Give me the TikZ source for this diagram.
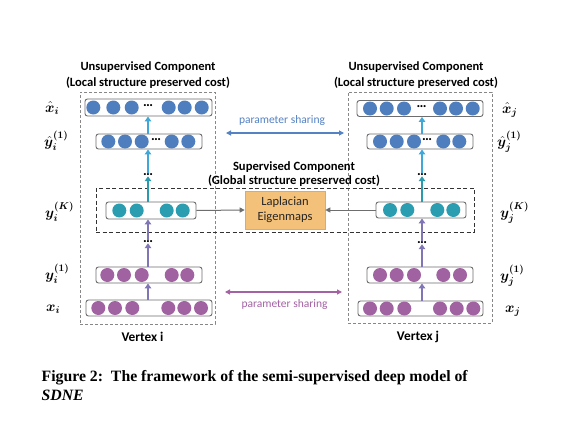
\documentclass[tikz,border=0pt]{standalone}
\usepackage{amsmath}
\usepackage{bm}
\usepackage{fontspec}
\setmainfont{Carlito}
\setsansfont{Carlito}
\newfontfamily\capfont{Liberation Serif}
\usetikzlibrary{arrows.meta}
\definecolor{bluedot}{RGB}{79,126,191}
\definecolor{tealdot}{RGB}{43,157,176}
\definecolor{purpledot}{RGB}{160,98,160}
\definecolor{arrblue}{RGB}{64,168,216}
\definecolor{arrteal}{RGB}{42,155,175}
\definecolor{arrpurple}{RGB}{128,118,182}
\definecolor{psblue}{RGB}{84,130,196}
\definecolor{pspurple}{RGB}{164,98,164}
\definecolor{boxgray}{RGB}{110,110,110}
\definecolor{dashgray}{RGB}{135,135,135}
\definecolor{lapfill}{RGB}{243,193,122}
\definecolor{lapdraw}{RGB}{232,168,90}
\definecolor{arrgray}{RGB}{110,110,110}
\newlength\fitlen
\newcommand\calcsize[4]{\settowidth\fitlen{#2\fontsize{10}{12}\selectfont #3}\pgfmathsetmacro\tmpsz{10*#4/\fitlen}\global\let#1\tmpsz}
\begin{document}
\calcsize{\szUa}{\bfseries}{Unsupervised Component}{135}%
\calcsize{\szUb}{\bfseries}{(Local structure preserved cost)}{164}%
\calcsize{\szSa}{\bfseries}{Supervised Component}{122}%
\calcsize{\szSb}{\bfseries}{(Global structure preserved cost)}{172}%
\calcsize{\szPS}{}{parameter sharing}{86}%
\calcsize{\szLap}{}{Eigenmaps}{55}%
\calcsize{\szV}{\bfseries}{Vertex i}{42}%
\calcsize{\szCap}{\capfont\bfseries}{Figure 2:\ \ The framework of the semi-supervised deep model of}{426}%
\begin{tikzpicture}[x=1pt,y=-1pt,
  layerbox/.style={draw=boxgray, rounded corners=2.5pt, line width=0.9pt, inner sep=0pt},
  dotc/.style={circle, inner sep=0pt, minimum size=14pt},
  bdot/.style={dotc, fill=bluedot},
  tdot/.style={dotc, fill=tealdot},
  pdot/.style={dotc, fill=purpledot},
  ell/.style={inner sep=0.5pt, font=\fontsize{14}{14}\selectfont\bfseries},
  lbl/.style={anchor=west, inner sep=0pt, font=\fontsize{14}{15}\selectfont},
  uparr/.style={line width=2pt, -{Triangle[length=5pt,width=6.5pt]}},
  psarr/.style={line width=1.1pt, {Triangle[length=5pt,width=5pt]}-{Triangle[length=5pt,width=5pt]}},
  gray arrow/.style={draw=arrgray, line width=1pt, -{Triangle[length=5pt,width=5pt]}},
  outerbox/.style={draw=dashgray, line width=0.8pt, dash pattern=on 3pt off 2pt},
  supbox/.style={draw=black!80, line width=0.8pt, dash pattern=on 4pt off 2.5pt}
]
\useasboundingbox[fill=white] (0,0) rectangle (570,431);

% outer dashed boxes
\node[outerbox, minimum width=135pt, minimum height=232pt, inner sep=0pt] (outi) at (147.5,208) {};
\node[outerbox, minimum width=144pt, minimum height=231pt, inner sep=0pt] (outj) at (420,207.5) {};
% supervised box
\node[supbox, minimum width=378pt, minimum height=44pt, inner sep=0pt] (sup) at (285,210) {};

% titles
\node[align=center, inner sep=0pt, font=\fontsize{12}{16}\selectfont\bfseries] (ti) at (148,75)
  {{\fontsize{\szUa}{16}\selectfont Unsupervised Component}\\{\fontsize{\szUb}{16}\selectfont (Local structure preserved cost)}};
\node[align=center, inner sep=0pt, font=\fontsize{12}{16}\selectfont\bfseries] (tj) at (416,75)
  {{\fontsize{\szUa}{16}\selectfont Unsupervised Component}\\{\fontsize{\szUb}{16}\selectfont (Local structure preserved cost)}};
\node[align=center, inner sep=0pt, font=\fontsize{12}{14.5}\selectfont\bfseries] (ts) at (294,174)
  {{\fontsize{\szSa}{14.5}\selectfont Supervised Component}\\{\fontsize{\szSb}{14.5}\selectfont (Global structure preserved cost)}};

% ---------------- left column
\node[layerbox, minimum width=127pt, minimum height=17pt] (xhi) at (148.5,107.5) {};
\node[layerbox, minimum width=106pt, minimum height=15pt] (yhi) at (149,141.5) {};
\node[layerbox, minimum width=90pt, minimum height=17pt] (yKi) at (151,210.5) {};
\node[layerbox, minimum width=106pt, minimum height=16pt] (y1i) at (149,275) {};
\node[layerbox, minimum width=126pt, minimum height=16pt] (xi) at (149,308) {};

\foreach \x [count=\k] in {93.3,113.3,131.7,168.7,184.7,201.7} \node[bdot] (xhic\k) at (\x,107.5) {};
\foreach \x [count=\k] in {108.3,125,141.7,171.7,188.3} \node[bdot] (yhic\k) at (\x,141.5) {};
\foreach \x [count=\k] in {119.3,136.7,166.7,182.7} \node[tdot] (yKic\k) at (\x,210.5) {};
\foreach \x [count=\k] in {107.3,124,141.7,171.7,187.3} \node[pdot] (y1ic\k) at (\x,275) {};
\foreach \x [count=\k] in {98.3,115,132.3,168.3,184.3,201} \node[pdot] (xic\k) at (\x,308) {};
\node[ell] (xhie) at (148,106) {\ldots};
\node[ell] (yhie) at (156,140) {\ldots};
\node[ell] (d1i) at (148,174.5) {\ldots};
\node[ell] (d2i) at (148,241.5) {\ldots};

\draw[uparr, draw=arrblue] (yhi.north -| 148,0) -- (xhi.south -| 148,0);
\draw[uparr, draw=arrblue] (d1i.north) -- (yhi.south -| 148,0);
\draw[uparr, draw=arrteal] (yKi.north -| 148,0) -- (d1i.south);
\draw[uparr, draw=arrpurple] (d2i.north) -- (yKi.south -| 148,0);
\draw[uparr, draw=arrpurple] (y1i.north -| 148,0) -- (d2i.south);
\draw[uparr, draw=arrpurple] (xi.north -| 148,0) -- (y1i.south -| 148,0);

% ---------------- right column
\node[layerbox, minimum width=126pt, minimum height=16pt] (xhj) at (420,108.5) {};
\node[layerbox, minimum width=106pt, minimum height=15pt] (yhj) at (420,141.5) {};
\node[layerbox, minimum width=90pt, minimum height=16pt] (yKj) at (421,210) {};
\node[layerbox, minimum width=106pt, minimum height=16pt] (y1j) at (420,275) {};
\node[layerbox, minimum width=125pt, minimum height=15pt] (xj) at (420.5,308.5) {};

\foreach \x [count=\k] in {370,386.7,404,440,456,472.7} \node[bdot] (xhjc\k) at (\x,108.5) {};
\foreach \x [count=\k] in {380,396.7,414,443.3,459.3} \node[bdot] (yhjc\k) at (\x,141.5) {};
\foreach \x [count=\k] in {390,407.3,437.3,453.3} \node[tdot] (yKjc\k) at (\x,210) {};
\foreach \x [count=\k] in {380,396.7,414,443.3,460} \node[pdot] (y1jc\k) at (\x,275) {};
\foreach \x [count=\k] in {370,386.7,404.3,440,456.7,473.3} \node[pdot] (xjc\k) at (\x,308.5) {};
\node[ell] (xhje) at (421.7,107) {\ldots};
\node[ell] (yhje) at (427,140) {\ldots};
\node[ell] (d1j) at (422,174.5) {\ldots};
\node[ell] (d2j) at (422,242.5) {\ldots};

\draw[uparr, draw=arrblue] (yhj.north -| 422,0) -- (xhj.south -| 422,0);
\draw[uparr, draw=arrblue] (d1j.north) -- (yhj.south -| 422,0);
\draw[uparr, draw=arrteal] (yKj.north -| 422,0) -- (d1j.south);
\draw[uparr, draw=arrpurple] (d2j.north) -- (yKj.south -| 422,0);
\draw[uparr, draw=arrpurple] (y1j.north -| 422,0) -- (d2j.south);
\draw[uparr, draw=arrpurple] (xj.north -| 422,0) -- (y1j.south -| 422,0);

% Laplacian
\node[draw=lapdraw, fill=lapfill, line width=0.6pt, minimum width=80pt, minimum height=38pt, align=center,
      inner sep=0pt, font=\fontsize{\szLap}{15}\selectfont, text=black!85] (lap) at (285,210) {Laplacian\\Eigenmaps};
\draw[gray arrow] (yKi.east) -- (lap.west);
\draw[gray arrow] (yKj.west) -- (lap.east);

% parameter sharing
\coordinate (psbl) at (226,133);
\coordinate (psbr) at (344,133);
\draw[psarr, draw=psblue] (psbl) -- (psbr);
\node[inner sep=0pt, font=\fontsize{\szPS}{12}\selectfont, text=psblue] (psbt) at (282,120.5) {parameter sharing};
\coordinate (pspl) at (225,292);
\coordinate (pspr) at (342,292);
\draw[psarr, draw=pspurple] (pspl) -- (pspr);
\node[inner sep=0pt, font=\fontsize{\szPS}{12}\selectfont, text=pspurple] (pspt) at (284.5,304) {parameter sharing};

% labels
\node[lbl] (lxhi) at (45,108) {$\bm{\hat{x}_i}$};
\node[lbl] (lyhi) at (44,141) {$\bm{\hat{y}_i}^{\bm{(1)}}$};
\node[lbl] (lyKi) at (45,212) {$\bm{y_i^{(K)}}$};
\node[lbl] (ly1i) at (45,274) {$\bm{y_i^{(1)}}$};
\node[lbl] (lxi) at (46,309) {$\bm{x_i}$};
\node[lbl] (lxhj) at (502,110) {$\bm{\hat{x}_j}$};
\node[lbl] (lyhj) at (497,142) {$\bm{\hat{y}_j}^{\bm{(1)}}$};
\node[lbl] (lyKj) at (500,213) {$\bm{y_j^{(K)}}$};
\node[lbl] (ly1j) at (500,276) {$\bm{y_j^{(1)}}$};
\node[lbl] (lxj) at (505,311) {$\bm{x_j}$};

% vertex labels
\node[inner sep=0pt, font=\fontsize{\szV}{12}\selectfont\bfseries] (vi) at (142.5,337) {Vertex i};
\node[inner sep=0pt, font=\fontsize{\szV}{12}\selectfont\bfseries] (vj) at (418,337) {Vertex j};

% caption
\node[anchor=base west, inner sep=0pt, align=left, font=\capfont\fontsize{\szCap}{19}\selectfont\bfseries] (cap) at (41.5,400)
  {Figure 2:\ \ The framework of the semi-supervised deep model of\\\textit{SDNE}};
\end{tikzpicture}
\end{document}
